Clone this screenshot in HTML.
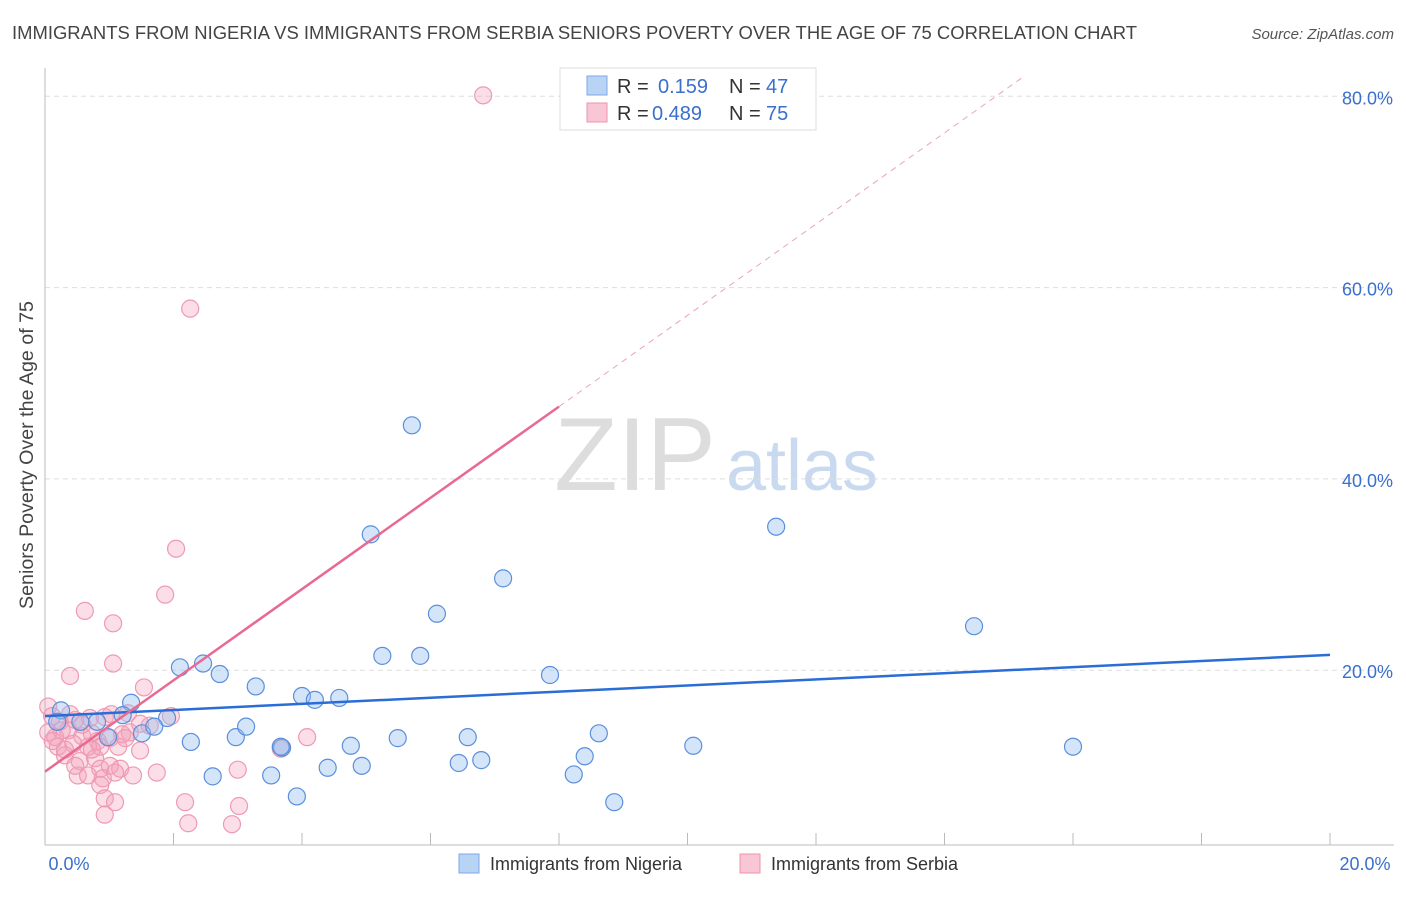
<!DOCTYPE html>
<html><head><meta charset="utf-8"><style>
body{margin:0;background:#fff;font-family:"Liberation Sans",sans-serif;}
svg text{font-family:"Liberation Sans",sans-serif;}
</style></head><body>
<svg id="chart" width="1406" height="892" viewBox="0 0 1406 892" xmlns="http://www.w3.org/2000/svg">
<text x="12" y="39" font-size="18" fill="#444" textLength="1125" lengthAdjust="spacingAndGlyphs">IMMIGRANTS FROM NIGERIA VS IMMIGRANTS FROM SERBIA SENIORS POVERTY OVER THE AGE OF 75 CORRELATION CHART</text>
<text x="1394" y="39" font-size="15" fill="#555" font-style="italic" text-anchor="end">Source: ZipAtlas.com</text>
<text transform="translate(33,455) rotate(-90)" font-size="19" fill="#444" text-anchor="middle" textLength="308" lengthAdjust="spacingAndGlyphs">Seniors Poverty Over the Age of 75</text>
<g>
<text x="635" y="490" font-size="104" fill="#ddd" font-family="Liberation Serif" text-anchor="middle">ZIP</text>
<text x="802" y="490" font-size="72" fill="#c9daf0" text-anchor="middle">atlas</text>
</g>
<g id="grid"></g><g id="axes"></g><g id="pts"></g><g id="trends"></g>
<g>
<rect x="560" y="68" width="256" height="62" fill="#fff" stroke="#ddd"/>
<rect x="587" y="76" width="20" height="19" fill="#b9d3f5" stroke="#7ea9e6"/>
<rect x="587" y="103" width="20" height="19" fill="#f9c6d5" stroke="#ee93ae"/>
<text x="617" y="93" font-size="20" fill="#333">R = </text><text x="658" y="93" font-size="20" fill="#3a6fcc">0.159</text>
<text x="729" y="93" font-size="20" fill="#333">N = </text><text x="766" y="93" font-size="20" fill="#3a6fcc">47</text>
<text x="617" y="120" font-size="20" fill="#333">R = </text><text x="652" y="120" font-size="20" fill="#3a6fcc">0.489</text>
<text x="729" y="120" font-size="20" fill="#333">N = </text><text x="766" y="120" font-size="20" fill="#3a6fcc">75</text>
</g>
<g>
<rect x="459" y="854" width="20" height="19" fill="#b9d3f5" stroke="#7ea9e6"/>
<text x="490" y="870" font-size="18" fill="#333">Immigrants from Nigeria</text>
<rect x="740" y="854" width="20" height="19" fill="#f9c6d5" stroke="#ee93ae"/>
<text x="771" y="870" font-size="18" fill="#333">Immigrants from Serbia</text>
</g>
</svg>
<script>
const NS="http://www.w3.org/2000/svg";
const yTicks=[20,40,60,80];
const yTickLabels=["20.0%","40.0%","60.0%","80.0%"];
const xTickLabels=["0.0%","20.0%"];
const nigeriaX=[0.25,1.34,2.10,2.46,2.72,3.28,4.00,4.20,4.58,1.90,1.51,1.70,2.27,2.97,3.13,3.69,3.67,4.76,5.49,6.58,2.61,3.52,3.92,4.40,4.93,6.44,6.79,8.23,8.40,8.62,8.86,10.09,16.00,7.86,7.13,6.10,5.25,5.84,5.07,5.71,11.38,14.46,0.81,0.98,1.21,0.19,0.55];
const nigeriaY=[15.8,16.6,20.3,20.7,19.6,18.3,17.3,16.9,17.1,15.0,13.4,14.1,12.5,13.0,14.1,11.9,12.0,12.1,12.9,13.0,8.9,9.0,6.8,9.8,10.0,10.3,10.6,9.1,11.0,13.4,6.2,12.1,12.0,19.5,29.6,25.9,21.5,21.5,34.2,45.6,35.0,24.6,14.6,13.0,15.3,14.6,14.6];
const serbiaX=[6.82,2.26,2.04,1.87,0.62,1.06,1.06,0.39,1.54,1.96,0.05,0.11,0.23,0.47,0.70,0.93,0.36,0.58,0.82,1.01,1.20,1.32,0.20,0.44,0.67,1.14,1.48,0.31,0.54,0.78,0.86,1.01,1.17,0.51,0.67,0.90,1.09,1.37,1.74,0.86,0.93,1.09,0.93,2.18,2.23,3.00,3.02,2.91,3.67,4.08,0.05,0.16,0.26,0.39,0.58,0.73,0.86,1.29,1.03,1.63,0.12,0.31,0.73,0.47,1.25,1.48];
const serbiaY=[80.1,57.8,32.7,27.9,26.2,24.9,20.7,19.4,18.2,15.2,16.2,15.2,14.6,14.8,15.0,15.1,13.7,13.1,12.6,12.9,13.3,13.5,12.0,12.3,12.0,12.0,11.6,11.1,10.5,10.8,9.7,10.0,9.7,9.0,9.0,8.7,9.3,9.0,9.3,8.0,6.6,6.2,4.9,6.2,4.0,9.6,5.8,3.9,11.8,13.0,13.5,13.0,13.7,15.4,14.3,13.4,12.0,15.5,15.4,14.2,12.6,11.7,11.7,10.0,12.9,14.4];
const nigeriaTrend=[15.2,0.32];   // intercept, slope (per %)
const serbiaTrend=[9.4,4.77];
const X0=45,X1=1330,Y0=861.5,YS=191.3/20;
const sx=v=>X0+v/20*(X1-X0), sy=v=>Y0-v*YS;
const mk=(p,t,a)=>{const e=document.createElementNS(NS,t);for(const k in a)e.setAttribute(k,a[k]);p.appendChild(e);return e;};
const grid=document.getElementById('grid'),axes=document.getElementById('axes');
yTicks.forEach((t,i)=>{
 const l=mk(grid,'line',{x1:X0,x2:1394,y1:sy(t),y2:sy(t),stroke:'#ddd','stroke-dasharray':'5,4'});
 
 
 const tx=mk(axes,'text',{x:1393,y:sy(t)+8,'font-size':18,fill:'#3a6fcc','text-anchor':'end'});tx.textContent=yTickLabels[i];
 
 
});
const ax=mk(axes,'line',{x1:X0,x2:X0,y1:68,y2:845,stroke:'#bbb'});


const bx=mk(axes,'line',{x1:X0,x2:1394,y1:845,y2:845,stroke:'#bbb'});


for(let i=0;i<=10;i++){const x=X0+i*(X1-X0)/10;const t=mk(axes,'line',{x1:x,x2:x,y1:833,y2:845,stroke:'#bbb'});
 
 }
[[X0+24,'0.0%'],[1365,'20.0%']].forEach((p,i)=>{const t=mk(axes,'text',{x:p[0],y:870,'font-size':18,fill:'#3a6fcc','text-anchor':'middle'});t.textContent=xTickLabels[i];
 
 });
const pts=document.getElementById('pts');
serbiaX.forEach((x,i)=>{const c=mk(pts,'circle',{cx:sx(x),cy:sy(serbiaY[i]),r:8.5,fill:'rgba(244,160,185,0.35)',stroke:'#ee9ab3','stroke-width':1.2});
 
 });
nigeriaX.forEach((x,i)=>{const c=mk(pts,'circle',{cx:sx(x),cy:sy(nigeriaY[i]),r:8.5,fill:'rgba(150,190,240,0.4)',stroke:'#5b8fdb','stroke-width':1.2});
 
 });
const tr=document.getElementById('trends');
const nt=mk(tr,'line',{x1:sx(0),y1:sy(nigeriaTrend[0]),x2:sx(20),y2:sy(nigeriaTrend[0]+20*nigeriaTrend[1]),stroke:'#2a6dd6','stroke-width':2.5});


const st=mk(tr,'line',{x1:sx(0),y1:sy(serbiaTrend[0]),x2:sx(8),y2:sy(serbiaTrend[0]+8*serbiaTrend[1]),stroke:'#e86a92','stroke-width':2.5});


const sd=mk(tr,'line',{x1:sx(8),y1:sy(serbiaTrend[0]+8*serbiaTrend[1]),x2:sx(15.2),y2:sy(serbiaTrend[0]+15.2*serbiaTrend[1]),stroke:'#eaa3b8','stroke-width':1,'stroke-dasharray':'6,5'});


</script>
</body></html>
